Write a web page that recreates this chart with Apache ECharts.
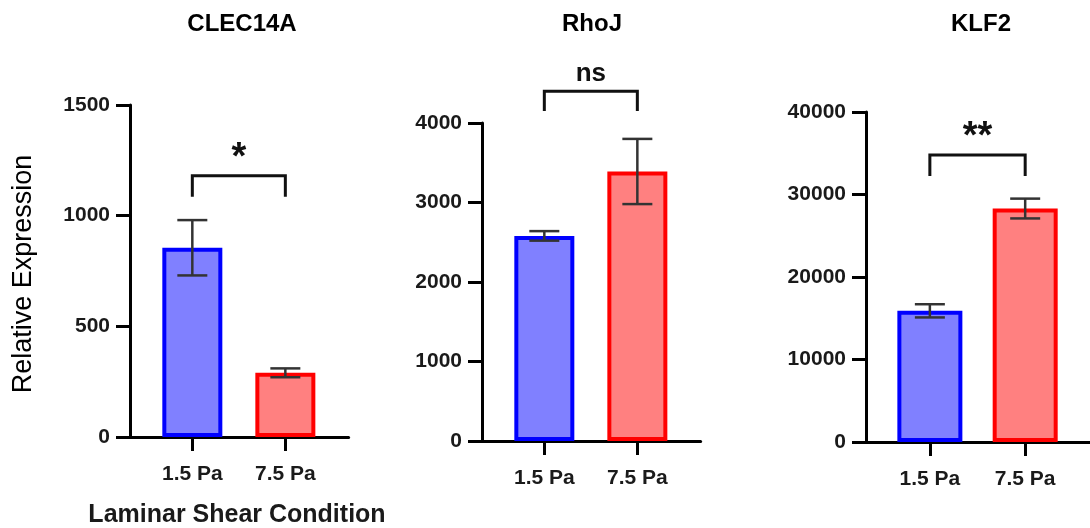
<!DOCTYPE html>
<html>
<head>
<meta charset="utf-8">
<script src="https://cdn.jsdelivr.net/npm/echarts@6/dist/echarts.min.js"></script>
<style>
  html, body { margin: 0; padding: 0; background: #fff; }
  #chart { width: 1090px; height: 528px; }
</style>
</head>
<body>
<div id="chart"></div>
<script>
// Shear conditions shown on every panel
const categories = ['1.5 Pa', '7.5 Pa'];
const genes = ['CLEC14A', 'RhoJ', 'KLF2'];

// Mean relative expression and error (SEM) per gene
const clec14aMean = [855, 290];
const clec14aErr = [125, 20];
const rhojMean = [2580, 3390];
const rhojErr = [60, 410];
const klf2Mean = [15900, 28300];
const klf2Err = [800, 1200];

// y-axis ranges and tick spacing
const yMax = [1500, 4000, 40000];
const yInterval = [500, 1000, 10000];

// Significance brackets: [bracket top, leg bottom] in data units, and their labels
const brackets = [[1180, 1085], [4400, 4150], [34800, 32250]];
const signif = ['*', 'ns', '**'];

const means = [clec14aMean, rhojMean, klf2Mean];
const errs = [clec14aErr, rhojErr, klf2Err];

// Panel geometry (pixels)
const panels = [
  { left: 130, top: 105, height: 332, width: 218.6, barWidth: 60, titleX: 242 },
  { left: 482, top: 123, height: 318, width: 218.6, barWidth: 60, titleX: 592 },
  { left: 866, top: 112, height: 330, width: 232.6, barWidth: 65, titleX: 981 }
];

const FONT = '"Liberation Sans", Arial, sans-serif';
const fills = ['#8080ff', '#ff8080'];
const borders = ['#0000ff', '#ff0000'];

const grid = [], xAxis = [], yAxis = [], series = [], graphic = [];

panels.forEach((p, i) => {
  grid.push({ left: p.left, top: p.top, width: p.width, height: p.height, containLabel: false });
  xAxis.push({
    type: 'value', gridIndex: i, min: 0.33, max: 2.68,
    axisLine: { show: true, lineStyle: { color: '#000', width: 3 } },
    axisTick: { show: true, customValues: [1, 2], length: 14, lineStyle: { color: '#000', width: 3 } },
    axisLabel: {
      customValues: [1, 2], margin: 27,
      formatter: v => categories[Math.round(v) - 1],
      fontFamily: FONT, fontWeight: 'bold', fontSize: 21, color: '#1a1a1a'
    },
    splitLine: { show: false }
  });
  yAxis.push({
    type: 'value', gridIndex: i, min: 0, max: yMax[i], interval: yInterval[i],
    axisLine: { show: true, lineStyle: { color: '#000', width: 3 } },
    axisTick: { show: true, length: 14, lineStyle: { color: '#000', width: 3 } },
    axisLabel: {
      margin: 20, formatter: v => String(v),
      fontFamily: FONT, fontWeight: 'bold', fontSize: 21, color: '#1a1a1a'
    },
    splitLine: { show: false }
  });

  // bars
  series.push({
    type: 'bar', xAxisIndex: i, yAxisIndex: i, barWidth: p.barWidth,
    data: means[i].map((m, k) => ({
      value: [k + 1, m],
      itemStyle: { color: fills[k], borderColor: borders[k], borderWidth: 4 }
    })),
    z: 3
  });

  // error bars
  series.push({
    type: 'custom', xAxisIndex: i, yAxisIndex: i, z: 4,
    data: means[i].map((m, k) => [k + 1, m, errs[i][k]]),
    renderItem: (params, api) => {
      const x = api.value(0), m = api.value(1), e = api.value(2);
      const hi = api.coord([x, m + e]);
      const lo = api.coord([x, m - e]);
      const cap = 15;
      const style = { stroke: '#333', lineWidth: 2.5 };
      return {
        type: 'group',
        children: [
          { type: 'line', shape: { x1: hi[0], y1: hi[1], x2: lo[0], y2: lo[1] }, style },
          { type: 'line', shape: { x1: hi[0] - cap, y1: hi[1], x2: hi[0] + cap, y2: hi[1] }, style },
          { type: 'line', shape: { x1: lo[0] - cap, y1: lo[1], x2: lo[0] + cap, y2: lo[1] }, style }
        ]
      };
    }
  });

  // significance bracket with its label
  series.push({
    type: 'custom', xAxisIndex: i, yAxisIndex: i, z: 5, clip: false,
    data: [[1, 2, brackets[i][0], brackets[i][1]]],
    renderItem: (params, api) => {
      const a = api.coord([api.value(0), api.value(3)]);
      const b = api.coord([api.value(0), api.value(2)]);
      const c = api.coord([api.value(1), api.value(2)]);
      const d = api.coord([api.value(1), api.value(3)]);
      const label = signif[i];
      const isStar = label.indexOf('*') >= 0;
      return {
        type: 'group',
        children: [
          {
            type: 'polyline',
            shape: { points: [a, b, c, d] },
            style: { stroke: '#111', lineWidth: 3, fill: null }
          },
          {
            type: 'text',
            x: (b[0] + c[0]) / 2,
            y: b[1] + (isStar ? 2 : -17),
            style: {
              text: label,
              fontFamily: FONT, fontWeight: 'bold',
              fontSize: isStar ? 38 : 26,
              fill: '#111',
              align: 'center',
              verticalAlign: isStar ? 'bottom' : 'middle'
            }
          }
        ]
      };
    }
  });

  // gene title
  graphic.push({
    type: 'text', x: p.titleX, y: 24,
    style: {
      text: genes[i], fontFamily: FONT, fontWeight: 'bold', fontSize: 24,
      fill: '#000', align: 'center', verticalAlign: 'middle'
    }
  });
});

// Shared axis titles
graphic.push({
  type: 'text', x: 24, y: 274, rotation: Math.PI / 2,
  style: {
    text: 'Relative Expression', fontFamily: FONT, fontSize: 27,
    fill: '#000', align: 'center', verticalAlign: 'middle'
  }
});
graphic.push({
  type: 'text', x: 237, y: 515,
  style: {
    text: 'Laminar Shear Condition', fontFamily: FONT, fontWeight: 'bold', fontSize: 25,
    fill: '#1a1a1a', align: 'center', verticalAlign: 'middle'
  }
});

const chart = echarts.init(document.getElementById('chart'));
chart.setOption({
  animation: false,
  backgroundColor: '#fff',
  grid, xAxis, yAxis, series, graphic
});
</script>
</body>
</html>
